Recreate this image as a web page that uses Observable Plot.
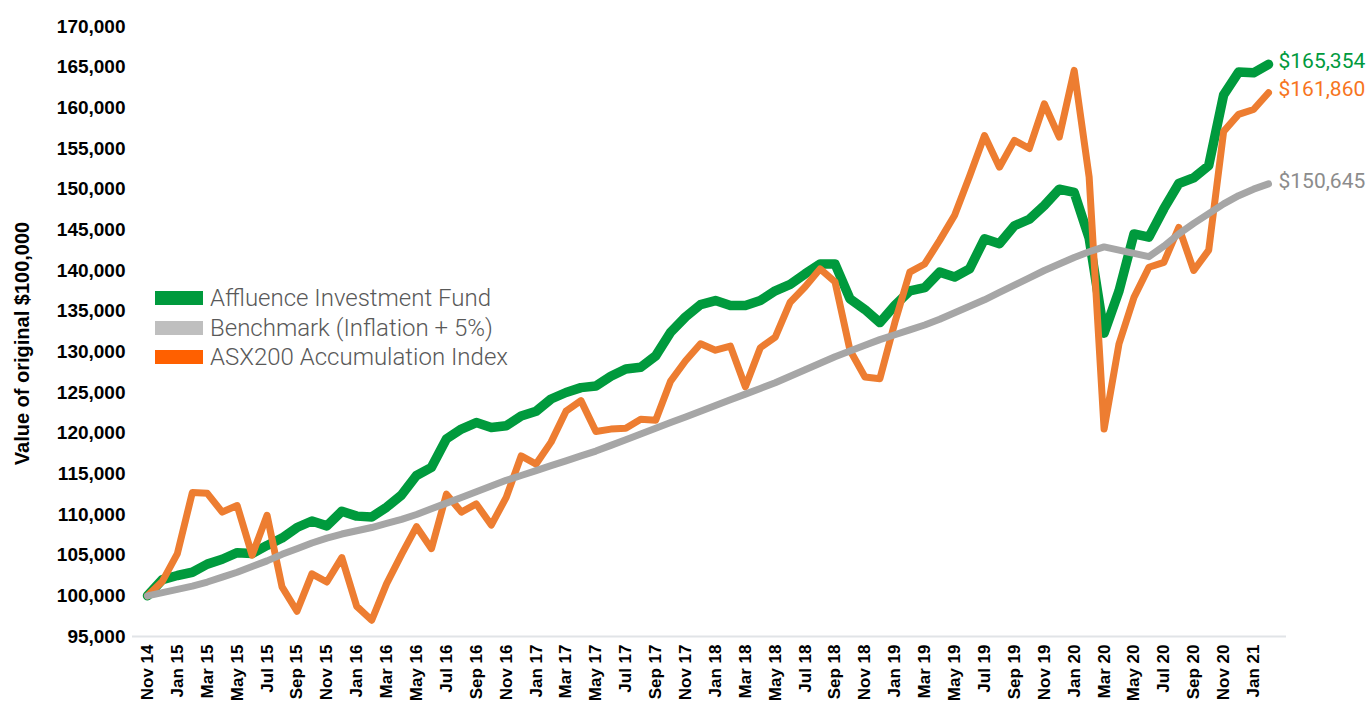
<!DOCTYPE html>
<html><head><meta charset="utf-8">
<script src="https://cdn.jsdelivr.net/npm/d3@7"></script>
<script src="https://cdn.jsdelivr.net/npm/@observablehq/plot@0.6"></script>
<style>
html,body{margin:0;padding:0;background:#fff;}
#wrap{position:relative;width:1367px;height:706px;overflow:hidden;}
#legend{position:absolute;left:155px;top:283px;font-family:Roboto,"Liberation Sans",sans-serif;font-weight:300;font-size:24px;color:#595959;}
.item{display:flex;align-items:center;height:29.7px;white-space:nowrap;}
.sw{width:48px;height:14px;margin-right:7px;flex:none;}
#wrap svg g[aria-label$="tick label"] text{font-weight:bold;}
</style></head><body><div id="wrap"><div id="legend"></div></div>
<script>
const months = ["Nov 14","Dec 14","Jan 15","Feb 15","Mar 15","Apr 15","May 15","Jun 15","Jul 15","Aug 15","Sep 15","Oct 15",
"Nov 15","Dec 15","Jan 16","Feb 16","Mar 16","Apr 16","May 16","Jun 16","Jul 16","Aug 16","Sep 16","Oct 16",
"Nov 16","Dec 16","Jan 17","Feb 17","Mar 17","Apr 17","May 17","Jun 17","Jul 17","Aug 17","Sep 17","Oct 17",
"Nov 17","Dec 17","Jan 18","Feb 18","Mar 18","Apr 18","May 18","Jun 18","Jul 18","Aug 18","Sep 18","Oct 18",
"Nov 18","Dec 18","Jan 19","Feb 19","Mar 19","Apr 19","May 19","Jun 19","Jul 19","Aug 19","Sep 19","Oct 19",
"Nov 19","Dec 19","Jan 20","Feb 20","Mar 20","Apr 20","May 20","Jun 20","Jul 20","Aug 20","Sep 20","Oct 20",
"Nov 20","Dec 20","Jan 21","Feb 21"];

const tickMonths = ["Nov 14","Jan 15","Mar 15","May 15","Jul 15","Sep 15","Nov 15","Jan 16","Mar 16","May 16","Jul 16","Sep 16",
"Nov 16","Jan 17","Mar 17","May 17","Jul 17","Sep 17","Nov 17","Jan 18","Mar 18","May 18","Jul 18","Sep 18",
"Nov 18","Jan 19","Mar 19","May 19","Jul 19","Sep 19","Nov 19","Jan 20","Mar 20","May 20","Jul 20","Sep 20","Nov 20","Jan 21"];

const yTicks = [95000,100000,105000,110000,115000,120000,125000,130000,135000,140000,145000,150000,155000,160000,165000,170000];

const fundValues = [100000,102000,102500,102900,103900,104500,105300,105200,106200,107100,
108400,109200,108600,110400,109800,109700,110900,112400,114800,115800,
119300,120500,121300,120700,120900,122100,122700,124200,125000,125600,
125800,127000,127900,128100,129500,132400,134300,135800,136300,135700,
135700,136300,137500,138300,139600,140800,140800,136500,135200,133600,
135700,137500,137900,139800,139200,140200,143900,143300,145500,146300,
148000,150000,149600,144000,132300,137500,144500,144100,147600,150700,
151400,152900,161600,164400,164300,165354];

const asxValues = [100000,101800,105200,112700,112600,110300,111100,105000,109900,101100,
98100,102700,101700,104700,98700,97000,101500,105100,108500,105800,
112500,110300,111300,108700,112100,117200,116200,118900,122700,124000,
120200,120500,120600,121700,121600,126400,128900,131000,130200,130700,
125700,130500,131800,136100,138000,140200,138600,130200,126900,126700,
133600,139800,140800,143700,146800,151600,156600,152700,156000,155000,
160500,156400,164600,151500,120500,131000,136700,140400,141000,145300,
140000,142500,157100,159200,159800,161860];

const benchValues = [100000,100400,100800,101200,101700,102300,102900,103600,104300,105100,
105800,106500,107100,107600,108000,108400,108900,109400,110000,110700,
111400,112100,112800,113500,114200,114800,115400,116000,116600,117200,
117800,118500,119200,119900,120600,121300,122000,122700,123400,124100,
124800,125500,126200,127000,127800,128600,129400,130100,130800,131500,
132100,132700,133300,134000,134800,135600,136400,137300,138200,139100,
140000,140800,141600,142300,142900,142500,142100,141700,143000,144500,
145800,147000,148200,149200,150000,150645];

const seriesNames = ["Affluence Investment Fund","Benchmark (Inflation + 5%)","ASX200 Accumulation Index"];
const lineColors = ["#009A3D","#A6A6A6","#ED7D31"];
const swatchColors = ["#009A3D","#BFBFBF","#FF6000"];
const labelColors = ["#009A3D","#8C8C8C","#F7751E"];
const yTitle = "Value of original $100,000";

const valuesBySeries = [fundValues, benchValues, asxValues];
const rows = (vals, name) => vals.map((v, i) => ({month: months[i], value: v, series: name}));
const fund = rows(fundValues, seriesNames[0]);
const bench = rows(benchValues, seriesNames[1]);
const asx = rows(asxValues, seriesNames[2]);
const ends = valuesBySeries.map((vals, k) => ({month: months[vals.length - 1], value: vals[vals.length - 1], color: labelColors[k]}));

const chart = Plot.plot({
  width: 1367, height: 706,
  marginLeft: 147, marginRight: 99, marginTop: 26, marginBottom: 70,
  style: {fontFamily: "'Liberation Sans', Arial, sans-serif", background: "#fff", color: "#000", overflow: "visible"},
  x: {type: "point", domain: months, padding: 0, axis: null},
  y: {domain: [95000, 170000], axis: null},
  marks: [
    Plot.ruleY([95000], {stroke: "#e1e4e7", strokeWidth: 2, insetLeft: -15, insetRight: -18}),
    Plot.axisY({ticks: yTicks, tickSize: 0, tickPadding: 22, tickFormat: d3.format(","), fontSize: 19, fontWeight: "bold", label: null}),
    Plot.axisX({ticks: tickMonths, tickSize: 0, tickPadding: 8, tickRotate: -90, fontSize: 17, fontWeight: "bold", label: null}),
    Plot.line(fund, {x: "month", y: "value", stroke: lineColors[0], strokeWidth: 9.5, strokeLinejoin: "round", strokeLinecap: "round"}),
    Plot.line(asx, {x: "month", y: "value", stroke: lineColors[2], strokeWidth: 7, strokeLinejoin: "round", strokeLinecap: "round"}),
    Plot.line(bench, {x: "month", y: "value", stroke: lineColors[1], strokeWidth: 7, strokeLinejoin: "round", strokeLinecap: "round"}),
    Plot.text(ends, {x: "month", y: "value", text: d => "$" + d3.format(",")(d.value), fill: "color", dx: 10, dy: -3, textAnchor: "start", fontSize: 21, fontFamily: "Roboto, sans-serif"}),
    Plot.text([yTitle], {frameAnchor: "left", textAnchor: "middle", rotate: -90, dx: -125, dy: 12, fontSize: 20, fontWeight: "bold"})
  ]
});
document.getElementById("wrap").appendChild(chart);

const legend = document.getElementById("legend");
seriesNames.forEach((name, k) => {
  const item = document.createElement("div");
  item.className = "item";
  const sw = document.createElement("span");
  sw.className = "sw";
  sw.style.background = swatchColors[k];
  const t = document.createElement("span");
  t.textContent = name;
  item.appendChild(sw); item.appendChild(t);
  legend.appendChild(item);
});
</script>
</body></html>
